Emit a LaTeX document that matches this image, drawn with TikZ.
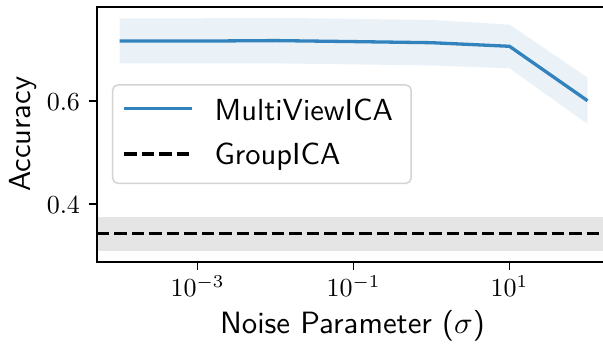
\documentclass[tikz,border=0pt]{standalone}
\definecolor{mvblue}{HTML}{3182BD}
\definecolor{mvband}{HTML}{EAF2F8}
\definecolor{gband}{HTML}{E5E5E5}
\definecolor{legedge}{HTML}{D3D3D3}
\tikzset{
  spine/.style={line width=2pt, line cap=rect},
  tickline/.style={line width=1.8pt},
  mvline/.style={mvblue, line width=3.3pt, line join=round},
  gline/.style={black, line width=3.1pt, dash pattern=on 12.5pt off 5pt},
  ticklab/.style={inner sep=0pt, font=\fontsize{10}{12}\selectfont, scale=2.6},
  biglab/.style={inner sep=0pt, font=\sffamily\fontsize{10}{12}\selectfont, scale=3.05},
  legbox/.style={draw=legedge, line width=1.5pt, fill=white, rounded corners=5pt}
}
\begin{document}
\begin{tikzpicture}[x=1pt, y=-1pt]
\useasboundingbox (0,0) rectangle (603,344);
\clip (0,0) rectangle (603,344);
% GroupICA band
\fill[gband] (96.7,216.7) rectangle (612,250.9);
% MultiViewICA band
\fill[mvband] (119.5,18.3) -- (197.5,18.3) -- (275.5,17.8) -- (353.5,18.9) -- (431.5,19.9) -- (509.5,24.6) -- (587.5,77.4)
  -- (587.5,124.0) -- (509.5,68.3) -- (431.5,65.5) -- (353.5,64.4) -- (275.5,63.4) -- (197.5,63.4) -- (119.5,63.4) -- cycle;
% lines
\draw[gline] (96.7,233.3) -- (612,233.3);
\draw[mvline] (119.5,41.1) -- (197.5,41.1) -- (275.5,40.6) -- (353.5,41.6) -- (431.5,42.7) -- (509.5,46.3) -- (587.5,100.7);
% spines
\draw[spine] (612,7.3) -- (96.7,7.3) -- (96.7,261.7) -- (612,261.7);
% ticks
\foreach \tx in {197.5,353.5,509.5} \draw[tickline] (\tx,261.7) -- (\tx,269.7);
\foreach \ty in {100.7,204.3} \draw[tickline] (88.7,\ty) -- (96.7,\ty);
% tick labels
\node[ticklab, anchor=base] (xt1) at (197.5,296.7) {$10^{-3}$};
\node[ticklab, anchor=base] (xt2) at (353.5,296.7) {$10^{-1}$};
\node[ticklab, anchor=base] (xt3) at (509.5,296.7) {$10^{1}$};
\node[ticklab, anchor=base east] (yt1) at (80.5,110.7) {$0.6$};
\node[ticklab, anchor=base east] (yt2) at (80.5,213.5) {$0.4$};
% axis labels
\node[biglab, anchor=base, scale=1.01] (xlab) at (352.5,333.3) {Noise Parameter ($\sigma$)};
\node[biglab, anchor=base, rotate=90] (ylab) at (30.7,134.3) {Accuracy};
% legend
\draw[legbox] (112.7,85) rectangle (411,183.3);
\draw[mvblue, line width=3.3pt] (124,108.7) -- (192,108.7);
\draw[black, line width=3.1pt, dash pattern=on 12.5pt off 5pt] (124,154) -- (192,154);
\node[biglab, anchor=base west] (leg1) at (214,120.7) {MultiViewICA};
\node[biglab, anchor=base west] (leg2) at (214,165) {GroupICA};
\end{tikzpicture}
\end{document}
